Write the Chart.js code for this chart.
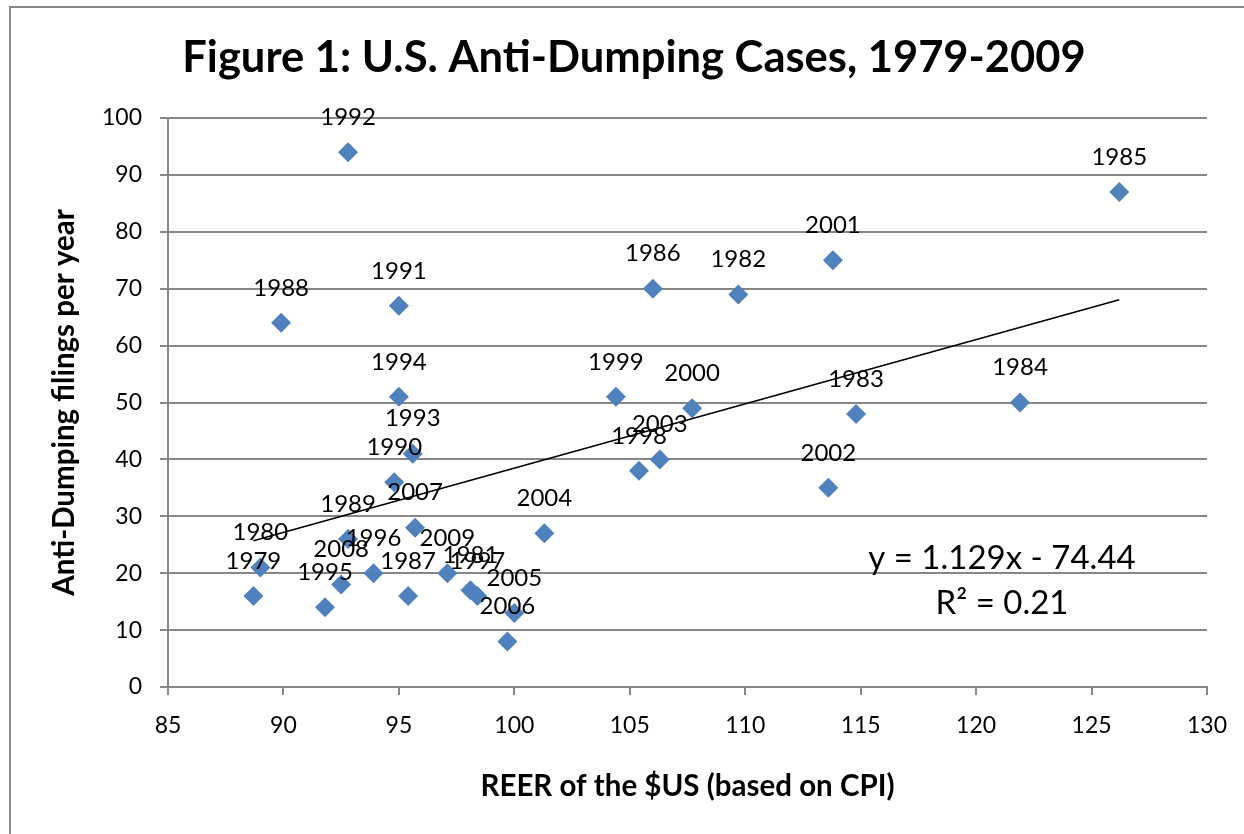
<!DOCTYPE html>
<html>
<head>
<meta charset="utf-8">
<script src="https://cdn.jsdelivr.net/npm/chart.js@4"></script>
<style>
  html, body { margin: 0; padding: 0; background: #ffffff; }
  #wrap { width: 1244px; height: 834px; position: relative; }
</style>
</head>
<body>
<div id="wrap"><canvas id="c" width="1244" height="834"></canvas></div>
<script>
// ---- data ----
const years = [1979, 1980, 1981, 1982, 1983, 1984, 1985, 1986, 1987, 1988,
               1989, 1990, 1991, 1992, 1993, 1994, 1995, 1996, 1997, 1998,
               1999, 2000, 2001, 2002, 2003, 2004, 2005, 2006, 2007, 2008, 2009];
const reer = [88.7, 89.0, 98.1, 109.7, 114.8, 121.9, 126.2, 106.0, 95.4, 89.9,
              92.8, 94.8, 95.0, 92.8, 95.6, 95.0, 91.8, 93.9, 98.4, 105.4,
              104.4, 107.7, 113.8, 113.6, 106.3, 101.3, 100.0, 99.7, 95.7, 92.5, 97.1];
const filings = [16, 21, 17, 69, 48, 50, 87, 70, 16, 64,
                 26, 36, 67, 94, 41, 51, 14, 20, 16, 38,
                 51, 49, 75, 35, 40, 27, 13, 8, 28, 18, 20];
const trendSlope = 1.129;
const trendIntercept = -74.44;
const trendLabel = "y = 1.129x - 74.44";
const r2Label = "R\u00B2 = 0.21";
const chartTitle = "Figure 1: U.S. Anti-Dumping Cases, 1979-2009";
const xTitle = "REER of the $US (based on CPI)";
const yTitle = "Anti-Dumping filings per year";
const xMin = 85, xMax = 130, xStep = 5;
const yMin = 0, yMax = 100, yStep = 10;

// ---- derived ----
const points = reer.map((x, i) => ({ x: x, y: filings[i] }));
const tMinX = Math.min(...reer), tMaxX = Math.max(...reer);
const trendPts = [
  { x: tMinX, y: trendSlope * tMinX + trendIntercept },
  { x: tMaxX, y: trendSlope * tMaxX + trendIntercept }
];

const FONT = "Lato, 'Open Sans', sans-serif";
const GRID = '#878787';

const framePlugin = {
  id: 'frame',
  beforeDraw(chart) {
    const ctx = chart.ctx;
    ctx.save();
    ctx.fillStyle = '#ffffff';
    ctx.fillRect(0, 0, chart.width, chart.height);
    ctx.strokeStyle = GRID;
    ctx.lineWidth = 2;
    ctx.strokeRect(10, 7, chart.width + 20, chart.height + 20);
    ctx.restore();
  }
};

const textPlugin = {
  id: 'texts',
  afterDatasetsDraw(chart) {
    const ctx = chart.ctx;
    const area = chart.chartArea;
    ctx.save();
    // data labels
    const meta = chart.getDatasetMeta(1);
    ctx.font = "24px " + FONT;
    ctx.fillStyle = '#000000';
    ctx.textAlign = 'center';
    ctx.textBaseline = 'middle';
    meta.data.forEach((el, i) => {
      ctx.fillText(String(years[i]), el.x, el.y - 35);
    });
    // trendline equation
    ctx.font = "33px " + FONT;
    ctx.fillText(trendLabel, area.right - 205, area.bottom - 129);
    ctx.fillText(r2Label, area.right - 205, area.bottom - 84);
    // chart title
    ctx.font = "bold 43.5px " + FONT;
    ctx.fillText(chartTitle, 634, 58);
    ctx.restore();
  }
};

new Chart(document.getElementById('c'), {
  data: {
    datasets: [
      {
        type: 'line',
        label: 'Trend',
        data: trendPts,
        borderColor: '#000000',
        borderWidth: 1.6,
        pointRadius: 0,
        fill: false,
        order: 0
      },
      {
        type: 'scatter',
        label: 'Filings',
        data: points,
        pointStyle: 'rectRot',
        pointRadius: 10,
        pointHoverRadius: 10,
        backgroundColor: '#4F81BD',
        borderColor: '#4F81BD',
        borderWidth: 0,
        order: 1
      }
    ]
  },
  options: {
    responsive: false,
    animation: false,
    events: [],
    layout: { padding: { top: 118, right: 35, left: 0, bottom: 0 } },
    plugins: {
      legend: { display: false },
      tooltip: { enabled: false },
      title: { display: false }
    },
    scales: {
      x: {
        type: 'linear',
        min: xMin, max: xMax,
        ticks: { stepSize: xStep, color: '#000000', font: { family: FONT, size: 23 }, padding: 17, maxRotation: 0 },
        grid: { drawOnChartArea: false, drawTicks: true, tickLength: 8, color: GRID, lineWidth: 2 },
        border: { display: true, color: GRID, width: 2 },
        title: { display: true, text: xTitle, color: '#000000', font: { family: FONT, size: 29.5, weight: 'bold' }, padding: { top: 0, bottom: 30 } },
        afterFit(s) { s.height = 147; }
      },
      y: {
        type: 'linear',
        min: yMin, max: yMax,
        ticks: { stepSize: yStep, color: '#000000', font: { family: FONT, size: 23 }, padding: 18 },
        grid: { drawOnChartArea: true, drawTicks: true, tickLength: 8, color: GRID, lineWidth: 2 },
        border: { display: true, color: GRID, width: 2 },
        title: { display: true, text: yTitle, color: '#000000', font: { family: FONT, size: 29.5, weight: 'bold' }, padding: { top: 47, bottom: 0 } },
        afterFit(s) { s.width = 168; }
      }
    }
  },
  plugins: [framePlugin, textPlugin]
});
</script>
</body>
</html>
